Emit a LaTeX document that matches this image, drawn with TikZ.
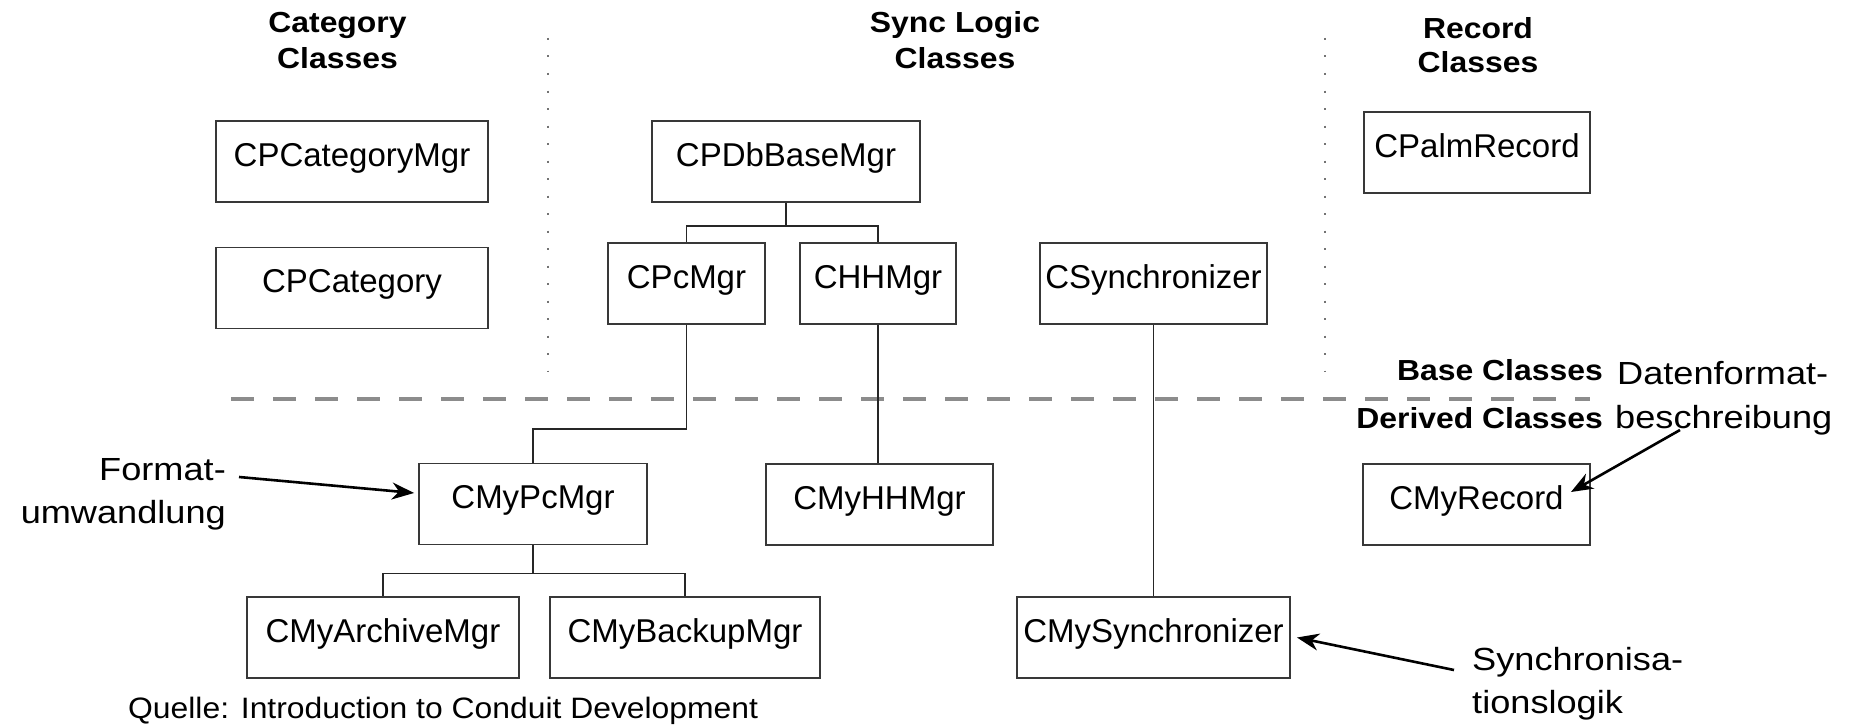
\documentclass[tikz,border=0pt]{standalone}
\usepackage{fontspec}
\setmainfont{Liberation Sans}
\newfontfamily\boxfont{Liberation Sans}
\newfontfamily\headfont[FakeStretch=1.1]{Liberation Sans Bold}
\newfontfamily\notefont[FakeStretch=1.13]{Liberation Sans}
\newfontfamily\srcfont[FakeStretch=1.08]{Liberation Sans}
\usetikzlibrary{arrows.meta,calc}

\tikzset{
  cls/.style={draw=black!78, line width=1.9pt, inner sep=0pt,
    text height=20pt, text depth=11pt, minimum height=81pt,
    font=\boxfont\fontsize{33}{40}\selectfont},
  head/.style={anchor=base, inner sep=0pt,
    font=\headfont\fontsize{29}{35}\selectfont},
  note/.style={inner sep=0pt, font=\notefont\fontsize{32}{40}\selectfont},
  src/.style={inner sep=0pt, font=\srcfont\fontsize{29.5}{36}\selectfont},
  link/.style={draw=black!85, line width=1.7pt},
  column/.style={draw=black!55, line width=2.4pt, dash pattern=on 2pt off 15.5pt},
  split/.style={draw=black!45, line width=3.4pt, dash pattern=on 23pt off 19pt},
  pointer/.style={draw=black, line width=2.6pt,
    -{Stealth[length=22pt,width=17pt,inset=7pt]}}
}

\begin{document}
\begin{tikzpicture}[x=1pt,y=-1pt]
\useasboundingbox (0,0) rectangle (1855,725);
\fill[white] (0,0) rectangle (1855,725);

% column headings
\node[head] (catA) at (337.5,33) {Category};
\node[head] (catB) at (337.5,68) {Classes};
\node[head] (synA) at (955,33) {Sync Logic};
\node[head] (synB) at (955,68) {Classes};
\node[head] (recA) at (1478,39) {Record};
\node[head] (recB) at (1478,73) {Classes};

% column separators and the base/derived boundary
\draw[column] (548,38) -- (548,372);
\draw[column] (1325,38) -- (1325,372);
\draw[split] (231,399) -- (1590,399);
\node[head, anchor=base east] (baseLbl) at (1603,380) {Base Classes};
\node[head, anchor=base east] (derivedLbl) at (1603,428) {Derived Classes};

% base classes
\node[cls, minimum width=272pt] (catmgr) at (352,161.5) {CPCategoryMgr};
\node[cls, minimum width=272pt] (cat) at (352,288) {CPCategory};
\node[cls, minimum width=268pt] (dbase) at (786,161.5) {CPDbBaseMgr};
\node[cls, minimum width=157pt] (pc) at (686.5,283.5) {CPcMgr};
\node[cls, minimum width=156pt] (hh) at (878,283.5) {CHHMgr};
\node[cls, minimum width=227pt] (sync) at (1153.5,283.5) {CSynchronizer};
\node[cls, minimum width=226pt] (palm) at (1477,152.5) {CPalmRecord};

% derived classes
\node[cls, minimum width=228pt] (mypc) at (533,504) {CMyPcMgr};
\node[cls, minimum width=227pt] (myhh) at (879.5,504.5) {CMyHHMgr};
\node[cls, minimum width=227pt] (myrec) at (1476.5,504.5) {CMyRecord};
\node[cls, minimum width=272pt] (arch) at (383,637.5) {CMyArchiveMgr};
\node[cls, minimum width=270pt] (backup) at (685,637.5) {CMyBackupMgr};
\node[cls, minimum width=273pt] (mysync) at (1153.5,637.5) {CMySynchronizer};

% inheritance lines
\draw[link] (dbase.south) -- ++(0,23) -| (pc.north);
\draw[link] (dbase.south) -- ++(0,23) -| (hh.north);
\draw[link] (pc.south) -- ++(0,104) -| (mypc.north);
\draw[link] (hh.south) -- (hh.south |- myhh.north);
\draw[link] (sync.south) -- (mysync.north);
\draw[link] (mypc.south) -- ++(0,28) -| (arch.north);
\draw[link] (mypc.south) -- ++(0,28) -| (backup.north);

% annotations
\node[note, anchor=base east] (fmtA) at (226,480) {Format-};
\node[note, anchor=base east] (fmtB) at (226,523) {umwandlung};
\node[note, anchor=base west] (datA) at (1617,384) {Datenformat-};
\node[note, anchor=base west] (datB) at (1615,428) {beschreibung};
\node[note, anchor=base west] (slA) at (1472,670) {Synchronisa-};
\node[note, anchor=base west] (slB) at (1472,713) {tionslogik};
\node[src, anchor=base west] (source) at (128,718) {Quelle: Introduction to Conduit Development};

\coordinate (fmtTail) at (239,477);
\coordinate (datTail) at (1680,430);
\coordinate (synTail) at (1454,670);
\draw[pointer] (fmtTail) -- ([xshift=-4pt,yshift=11pt]mypc.west);
\draw[pointer] (datTail) -- ([xshift=-20pt,yshift=12.5pt]myrec.east);
\draw[pointer] (synTail) -- ([xshift=6pt]mysync.east);
\end{tikzpicture}
\end{document}
